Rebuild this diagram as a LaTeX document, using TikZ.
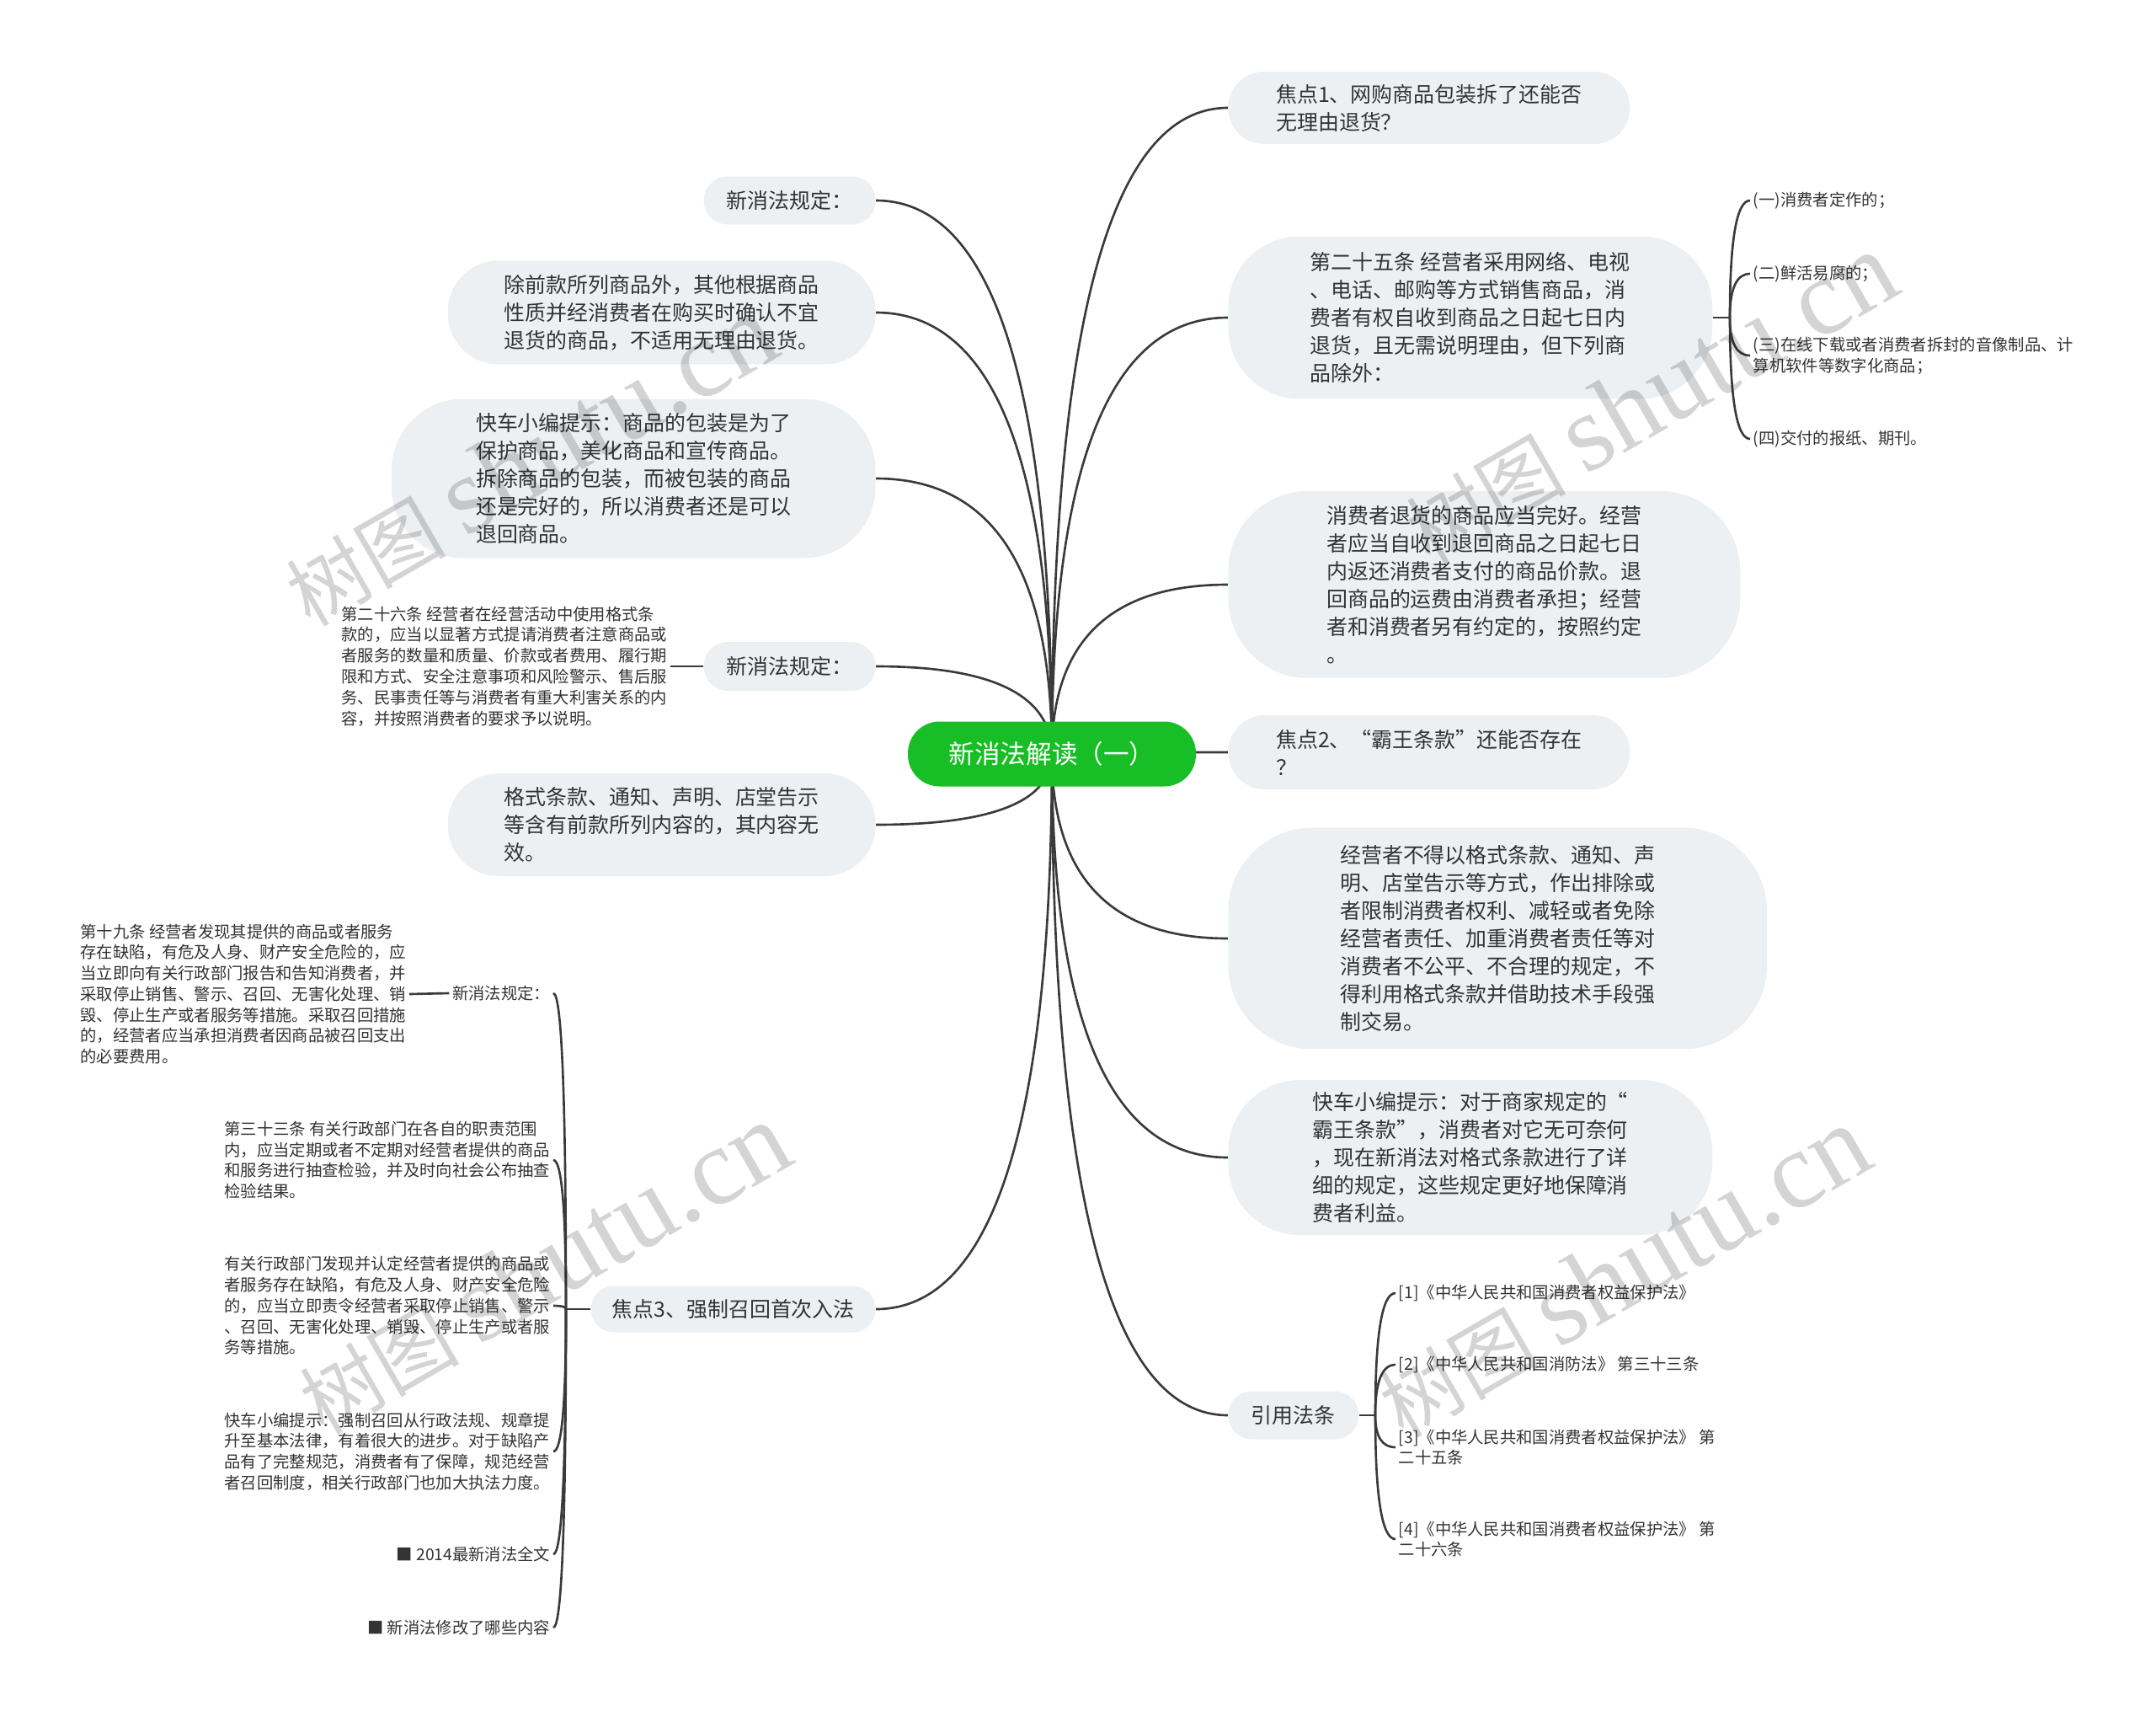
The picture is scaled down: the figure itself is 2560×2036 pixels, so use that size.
\documentclass[tikz,border=0pt]{standalone}
\usepackage{fontspec}
\setmainfont{Noto Sans CJK SC}
\newfontfamily\wmlatin{Liberation Serif}
\usetikzlibrary{calc, backgrounds}
\definecolor{boxgray}{RGB}{237,240,243}
\definecolor{rootgreen}{RGB}{23,190,38}
\definecolor{ink}{RGB}{51,51,51}
\definecolor{wire}{RGB}{58,58,58}
\newcommand{\mainsize}{\fontsize{14.2pt}{18.8pt}\selectfont}
\newcommand{\leafsize}{\fontsize{11pt}{14.1pt}\selectfont}
\newcommand{\rootsize}{\fontsize{17.4pt}{21pt}\selectfont}
\newcommand{\wmsize}{\fontsize{54pt}{60pt}\selectfont}

\begin{document}
\begin{tikzpicture}[
    x=0.02cm, y=-0.02cm,
    topic/.style={fill=boxgray, rounded corners=#1, align=left,
                  font=\mainsize, text=ink, inner sep=0pt},
    leaf/.style={align=left, font=\leafsize, text=ink, inner sep=2pt},
    branch/.style={draw=wire, line width=1.5pt, to path={
        .. controls ($(\tikztostart)!0.667!(\tikztostart |- \tikztotarget)$)
        and ($(\tikztotarget)!0.667!(\tikztostart |- \tikztotarget)$)
        .. (\tikztotarget)}},
    stub/.style={draw=wire, line width=1.5pt},
    wmark/.style={text=black, opacity=0.17, rotate=30, inner sep=0pt,
                  font=\wmsize}
  ]
    \useasboundingbox (0,0) rectangle (2560,2036);

    %% ROOT
    \node[fill=rootgreen, rounded corners=0.75cm, minimum width=6.84cm,
          minimum height=1.54cm, font=\rootsize, text=white] (root)
      at (1249,895) {新消法解读（一）};

    %% RIGHT SIDE
    \node[topic=0.85cm, minimum width=9.54cm, minimum height=1.72cm,
          anchor=west] (focus1) at (1458,128)
      {焦点1、网购商品包装拆了还能否\\无理由退货？};
    \node[topic=1.7cm, minimum width=11.5cm, minimum height=3.86cm,
          anchor=west] (art25) at (1458,377)
      {第二十五条 经营者采用网络、电视\\、电话、邮购等方式销售商品，消\\费者有权自收到商品之日起七日内\\退货，且无需说明理由，但下列商\\品除外：};
    \node[topic=1.9cm, minimum width=12.16cm, minimum height=4.44cm,
          anchor=west] (refund) at (1458,694)
      {消费者退货的商品应当完好。经营\\者应当自收到退回商品之日起七日\\内返还消费者支付的商品价款。退\\回商品的运费由消费者承担；经营\\者和消费者另有约定的，按照约定\\。};
    \node[topic=0.87cm, minimum width=9.54cm, minimum height=1.76cm,
          anchor=west] (focus2) at (1458,893)
      {焦点2、“霸王条款”还能否存在\\？};
    \node[topic=2cm, minimum width=12.8cm, minimum height=5.26cm,
          anchor=west] (nounfair) at (1458,1114)
      {经营者不得以格式条款、通知、声\\明、店堂告示等方式，作出排除或\\者限制消费者权利、减轻或者免除\\经营者责任、加重消费者责任等对\\消费者不公平、不合理的规定，不\\得利用格式条款并借助技术手段强\\制交易。};
    \node[topic=1.7cm, minimum width=11.5cm, minimum height=3.68cm,
          anchor=west] (tip2) at (1458,1374)
      {快车小编提示：对于商家规定的“\\霸王条款”，消费者对它无可奈何\\，现在新消法对格式条款进行了详\\细的规定，这些规定更好地保障消\\费者利益。};
    \node[topic=0.56cm, minimum width=3.1cm, minimum height=1.14cm,
          anchor=west] (cite) at (1458,1680) {引用法条};

    %% exceptions of art. 25
    \coordinate (j25) at (2054,377);
    \node[leaf, anchor=west] (ex1) at (2078,238) {(一)消费者定作的；};
    \node[leaf, anchor=west] (ex2) at (2078,325) {(二)鲜活易腐的；};
    \node[leaf, anchor=west] (ex3) at (2078,422)
      {(三)在线下载或者消费者拆封的音像制品、计\\算机软件等数字化商品；};
    \node[leaf, anchor=west] (ex4) at (2078,521) {(四)交付的报纸、期刊。};

    %% cited laws
    \coordinate (jcite) at (1633,1680);
    \node[leaf, anchor=west] (law1) at (1657,1535)
      {[1]《中华人民共和国消费者权益保护法》};
    \node[leaf, anchor=west] (law2) at (1657,1620)
      {[2]《中华人民共和国消防法》 第三十三条};
    \node[leaf, anchor=west] (law3) at (1657,1718)
      {[3]《中华人民共和国消费者权益保护法》 第\\二十五条};
    \node[leaf, anchor=west] (law4) at (1657,1827)
      {[4]《中华人民共和国消费者权益保护法》 第\\二十六条};

    %% LEFT SIDE
    \node[topic=0.56cm, minimum width=4.08cm, minimum height=1.14cm,
          anchor=east] (rule1) at (1040,238) {新消法规定：};
    \node[topic=1.2cm, minimum width=10.16cm, minimum height=2.46cm,
          anchor=east] (others) at (1040,371)
      {除前款所列商品外，其他根据商品\\性质并经消费者在购买时确认不宜\\退货的商品，不适用无理由退货。};
    \node[topic=1.7cm, minimum width=11.5cm, minimum height=3.78cm,
          anchor=east] (tip1) at (1040,568)
      {快车小编提示：商品的包装是为了\\保护商品，美化商品和宣传商品。\\拆除商品的包装，而被包装的商品\\还是完好的，所以消费者还是可以\\退回商品。};
    \node[topic=0.57cm, minimum width=4.08cm, minimum height=1.16cm,
          anchor=east] (rule2) at (1040,791) {新消法规定：};
    \node[topic=1.2cm, minimum width=10.16cm, minimum height=2.44cm,
          anchor=east] (void) at (1040,979)
      {格式条款、通知、声明、店堂告示\\等含有前款所列内容的，其内容无\\效。};
    \node[topic=0.54cm, minimum width=6.76cm, minimum height=1.1cm,
          anchor=east] (focus3) at (1040,1554) {焦点3、强制召回首次入法};

    %% art. 26
    \node[leaf, anchor=east] (art26) at (796,791)
      {第二十六条 经营者在经营活动中使用格式条\\款的，应当以显著方式提请消费者注意商品或\\者服务的数量和质量、价款或者费用、履行期\\限和方式、安全注意事项和风险警示、售后服\\务、民事责任等与消费者有重大利害关系的内\\容，并按照消费者的要求予以说明。};

    %% recall details
    \coordinate (jrecall) at (672,1554);
    \node[leaf, anchor=east] (rule3) at (657,1179) {新消法规定：};
    \node[leaf, anchor=east] (art19) at (486,1180)
      {第十九条 经营者发现其提供的商品或者服务\\存在缺陷，有危及人身、财产安全危险的，应\\当立即向有关行政部门报告和告知消费者，并\\采取停止销售、警示、召回、无害化处理、销\\毁、停止生产或者服务等措施。采取召回措施\\的，经营者应当承担消费者因商品被召回支出\\的必要费用。};
    \node[leaf, anchor=east] (art33) at (657,1377)
      {第三十三条 有关行政部门在各自的职责范围\\内，应当定期或者不定期对经营者提供的商品\\和服务进行抽查检验，并及时向社会公布抽查\\检验结果。};
    \node[leaf, anchor=east] (order) at (657,1550)
      {有关行政部门发现并认定经营者提供的商品或\\者服务存在缺陷，有危及人身、财产安全危险\\的，应当立即责令经营者采取停止销售、警示\\、召回、无害化处理、销毁、停止生产或者服\\务等措施。};
    \node[leaf, anchor=east] (tip3) at (657,1723)
      {快车小编提示：强制召回从行政法规、规章提\\升至基本法律，有着很大的进步。对于缺陷产\\品有了完整规范，消费者有了保障，规范经营\\者召回制度，相关行政部门也加大执法力度。};
    \node[leaf, anchor=east] (link1) at (657,1845) {■ 2014最新消法全文};
    \node[leaf, anchor=east] (link2) at (657,1932) {■ 新消法修改了哪些内容};

    %% CONNECTORS
    \begin{scope}[on background layer]
      \fill[white] (0,0) rectangle (2560,2036);
      \foreach \n in {focus1, art25, refund, focus2, nounfair, tip2, cite}
        \draw[branch] (root.center) to (\n.west);
      \foreach \n in {rule1, others, tip1, rule2, void, focus3}
        \draw[branch] (root.center) to (\n.east);
      \draw[stub] (art25.east) -- (j25);
      \foreach \n in {ex1, ex2, ex3, ex4}
        \draw[branch] (j25) to (\n.west);
      \draw[stub] (cite.east) -- (jcite);
      \foreach \n in {law1, law2, law3, law4}
        \draw[branch] (jcite) to (\n.west);
      \draw[stub] (rule2.west) -- (art26.east);
      \draw[stub] (focus3.west) -- (jrecall);
      \foreach \n in {rule3, art33, order, tip3, link1, link2}
        \draw[branch] (jrecall) to (\n.east);
      \draw[stub] (rule3.west) -- (art19.east);
    \end{scope}

    %% WATERMARKS
    \node[wmark] (wm1) at (629,547)
      {树图\hspace{0.25em}{\wmlatin\fontsize{74pt}{80pt}\selectfont shutu.cn}};
    \node[wmark] (wm2) at (1959,473)
      {树图\hspace{0.25em}{\wmlatin\fontsize{74pt}{80pt}\selectfont shutu.cn}};
    \node[wmark] (wm3) at (645,1506)
      {树图\hspace{0.25em}{\wmlatin\fontsize{74pt}{80pt}\selectfont shutu.cn}};
    \node[wmark] (wm4) at (1927,1510)
      {树图\hspace{0.25em}{\wmlatin\fontsize{74pt}{80pt}\selectfont shutu.cn}};
\end{tikzpicture}
\end{document}
